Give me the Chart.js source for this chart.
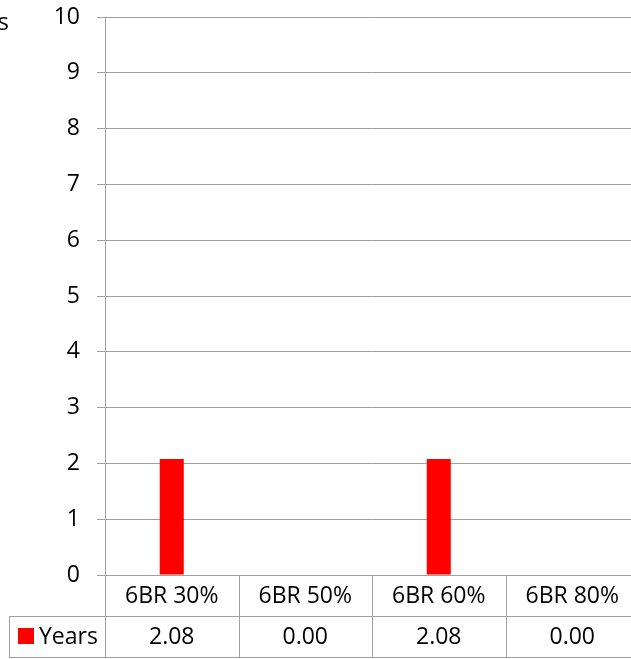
<!DOCTYPE html>
<html>
<head>
<meta charset="utf-8">
<script src="https://cdn.jsdelivr.net/npm/chart.js@4.4.1/dist/chart.umd.min.js"></script>
<style>
  html, body { margin:0; padding:0; background:#fff; overflow:hidden; }
  #wrap { position:absolute; left:0; top:0; width:640px; height:659px; }
</style>
</head>
<body>
<div id="wrap"><canvas id="chart"></canvas></div>
<script>
// Data
const categories = ["6BR 30%", "6BR 50%", "6BR 60%", "6BR 80%"];
const seriesName = "Years";
const years = [2.08, 0.00, 2.08, 0.00];
const yTicks = [0, 1, 2, 3, 4, 5, 6, 7, 8, 9, 10];

const FONT = "'Open Sans', 'Liberation Sans', sans-serif";
const FSIZE = 23;
const GRID = "#a0a0a0";
const RED = "#ff0000";

// data table under the plot, laid out from the x scale
const dataTable = {
    id: "dataTable",
    afterDraw(chart){
        const { ctx, chartArea, scales:{ x } } = chart;
        const n = categories.length;
        const colW = (x.right - x.left) / n;
        const y0 = Math.round(chartArea.bottom), y1 = y0 + 41, y2 = y1 + 41;
        const legLeft = 9;

        ctx.save();
        ctx.strokeStyle = GRID;
        ctx.lineWidth = 1;
        ctx.beginPath();
        // column dividers
        for (let i = 0; i <= n; i++){
            const xx = Math.round(x.getPixelForValue(i) - colW/2) + 0.5;
            ctx.moveTo(xx, y0); ctx.lineTo(xx, y2);
        }
        // row lines
        ctx.moveTo(legLeft, y1 + 0.5); ctx.lineTo(x.right, y1 + 0.5);
        ctx.moveTo(legLeft, y2 + 0.5); ctx.lineTo(x.right, y2 + 0.5);
        ctx.moveTo(legLeft + 0.5, y1); ctx.lineTo(legLeft + 0.5, y2);
        ctx.stroke();

        ctx.fillStyle = "#000";
        ctx.font = FSIZE + "px " + FONT;
        ctx.textAlign = "center";
        ctx.textBaseline = "middle";
        categories.forEach((c, i) => {
            const cx = x.getPixelForValue(i);
            ctx.fillText(c, cx, (y0 + y1) / 2 + 1);
            ctx.fillText(years[i].toFixed(2), cx, (y1 + y2) / 2 + 1);
        });

        // legend key
        ctx.fillStyle = RED;
        ctx.fillRect(18, y1 + 12, 16, 16);
        ctx.fillStyle = "#000";
        ctx.textAlign = "left";
        ctx.fillText(seriesName, 39, (y1 + y2) / 2 + 1);

        // cut-off axis title
        ctx.font = "24px " + FONT;
        ctx.textAlign = "right";
        ctx.textBaseline = "alphabetic";
        ctx.fillText(seriesName, 9, 30);
        ctx.restore();
    }
};

new Chart(document.getElementById("chart"), {
    type: "bar",
    data: {
        labels: categories,
        datasets: [{
            label: seriesName,
            data: years,
            backgroundColor: RED,
            borderWidth: 0,
            barPercentage: 0.18,
            categoryPercentage: 1
        }]
    },
    options: {
        responsive: true,
        maintainAspectRatio: false,
        animation: false,
        layout: { padding: { top: 17, right: 1, bottom: 84, left: 0 } },
        plugins: { legend: { display: false }, tooltip: { enabled: false } },
        scales: {
            x: { display: false },
            y: {
                min: 0, max: 10,
                afterFit: s => { s.width = 105; s.paddingTop = 0; s.paddingBottom = 0; },
                afterBuildTicks: s => { s.ticks = yTicks.map(v => ({ value: v })); },
                ticks: { color: "#000", padding: 17, font: { family: FONT, size: FSIZE } },
                grid: { color: GRID, lineWidth: 1, drawTicks: true, tickLength: 8, tickColor: GRID },
                border: { display: true, color: GRID, width: 1 }
            }
        }
    },
    plugins: [dataTable]
});
</script>
</body>
</html>
